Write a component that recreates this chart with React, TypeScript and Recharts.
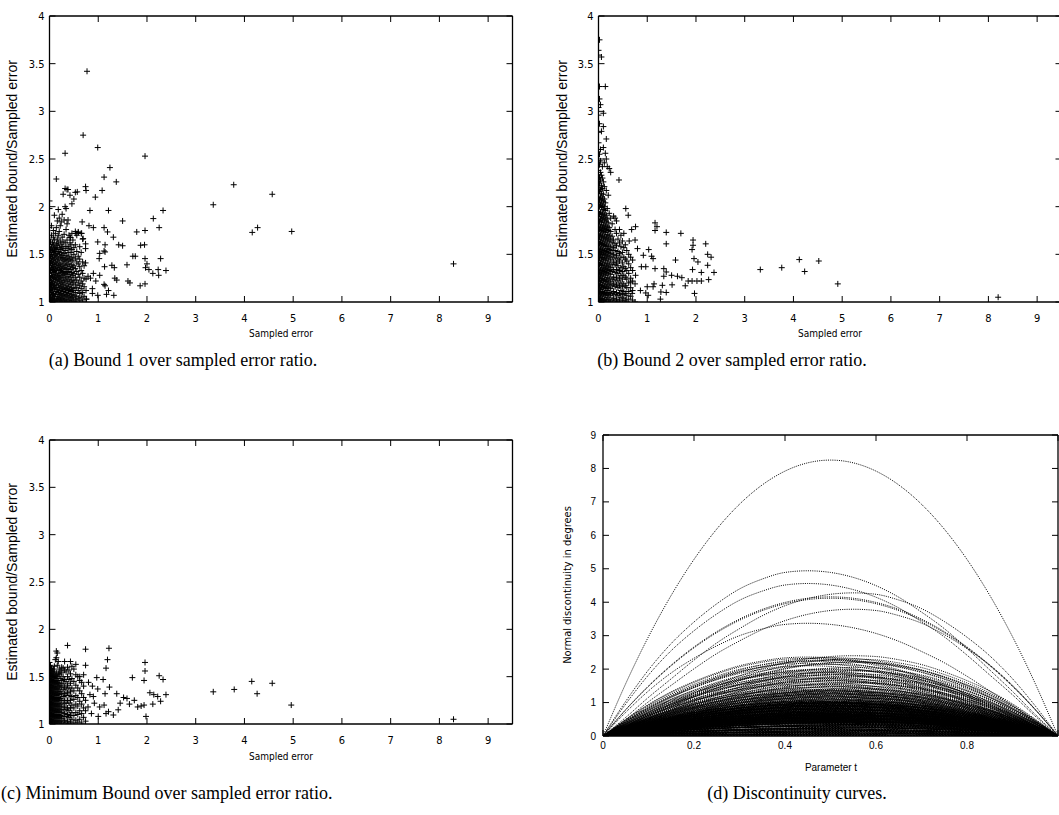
import React from 'react';
import { ScatterChart, Scatter, XAxis, YAxis, LineChart, Line } from 'recharts';

// ---------- tick labels ----------
const errorTicks = [0, 1, 2, 3, 4, 5, 6, 7, 8, 9];
const ratioTicks = [1, 1.5, 2, 2.5, 3, 3.5, 4];
const paramTicks = [0, 0.2, 0.4, 0.6, 0.8, 1];
const paramTickLabels = ['0', '0.2', '0.4', '0.6', '0.8', ''];
const degreeTicks = [0, 1, 2, 3, 4, 5, 6, 7, 8, 9];

// ---------- (a) Bound 1 / sampled error ----------
const boundOneColumns: [number, number[]][] = [
  [0.0, [1.02, 1.08, 1.15, 1.22, 1.3, 1.38, 1.45, 1.52, 1.6, 1.66, 1.78, 1.98, 2.06]],
  [0.02, [1.0, 1.05, 1.12, 1.18, 1.25, 1.33, 1.41, 1.48, 1.55, 1.63]],
  [0.04, [1.03, 1.1, 1.16, 1.21, 1.28, 1.36, 1.43, 1.5, 1.58, 1.7, 1.8]],
  [0.06, [1.01, 1.07, 1.13, 1.2, 1.27, 1.34, 1.4, 1.47, 1.54, 1.62]],
  [0.08, [1.04, 1.09, 1.17, 1.24, 1.31, 1.37, 1.44, 1.52, 1.6, 1.68, 1.75]],
  [0.1, [1.02, 1.06, 1.14, 1.19, 1.26, 1.32, 1.39, 1.46, 1.53, 1.57, 1.65, 1.91]],
  [0.12, [1.0, 1.08, 1.15, 1.23, 1.29, 1.35, 1.42, 1.49, 1.56, 1.72]],
  [0.14, [1.03, 1.11, 1.18, 1.25, 1.33, 1.4, 1.48, 1.55, 1.61, 1.78, 2.29]],
  [0.16, [1.01, 1.06, 1.13, 1.21, 1.28, 1.36, 1.44, 1.51, 1.59, 1.66, 1.85]],
  [0.18, [1.04, 1.1, 1.17, 1.24, 1.3, 1.38, 1.45, 1.53, 1.62, 1.7, 1.97]],
  [0.2, [1.02, 1.08, 1.15, 1.22, 1.27, 1.34, 1.41, 1.5, 1.57, 1.74, 1.88]],
  [0.22, [1.0, 1.05, 1.12, 1.19, 1.26, 1.33, 1.39, 1.47, 1.55, 1.64, 1.8]],
  [0.24, [1.03, 1.09, 1.16, 1.23, 1.31, 1.37, 1.46, 1.52, 1.6, 1.84]],
  [0.26, [1.01, 1.07, 1.14, 1.2, 1.28, 1.35, 1.43, 1.49, 1.58, 1.68, 1.92]],
  [0.28, [1.04, 1.11, 1.18, 1.25, 1.32, 1.4, 1.47, 1.56, 1.63, 2.13]],
  [0.3, [1.02, 1.06, 1.13, 1.21, 1.29, 1.36, 1.44, 1.51, 1.71, 1.86]],
  [0.32, [1.0, 1.08, 1.15, 1.23, 1.3, 1.38, 1.45, 1.54, 1.62, 2.0, 2.19, 2.56]],
  [0.34, [1.03, 1.1, 1.17, 1.26, 1.34, 1.42, 1.49, 1.58, 1.76, 1.98]],
  [0.36, [1.01, 1.07, 1.14, 1.22, 1.31, 1.39, 1.46, 1.65, 1.82, 2.18]],
  [0.38, [1.05, 1.12, 1.19, 1.27, 1.35, 1.44, 1.52, 1.58, 1.86, 2.18]],
  [0.4, [1.02, 1.09, 1.16, 1.24, 1.32, 1.4, 1.48, 1.56, 1.7]],
  [0.42, [1.0, 1.06, 1.13, 1.21, 1.29, 1.37, 1.45, 1.62, 1.68, 2.12]],
  [0.44, [1.04, 1.11, 1.18, 1.26, 1.34, 1.43, 1.52, 1.6]],
  [0.46, [1.02, 1.08, 1.15, 1.23, 1.31, 1.39, 1.47, 1.55, 1.72, 2.03]],
  [0.48, [1.05, 1.12, 1.2, 1.28, 1.36, 1.44, 1.65]],
  [0.5, [1.01, 1.07, 1.14, 1.22, 1.3, 1.38, 1.5, 1.57, 2.08]],
  [0.53, [1.03, 1.1, 1.18, 1.26, 1.35, 1.46, 1.6, 1.74, 2.15]],
  [0.56, [1.0, 1.06, 1.15, 1.23, 1.32, 1.42, 1.53, 1.7]],
  [0.59, [1.04, 1.12, 1.2, 1.29, 1.4, 1.48, 1.73]],
  [0.62, [1.02, 1.09, 1.17, 1.26, 1.37, 1.45, 1.58]],
  [0.65, [1.05, 1.14, 1.22, 1.33, 1.52, 1.72]],
  [0.68, [1.01, 1.1, 1.19, 1.3, 1.42, 1.66]],
  [0.71, [1.06, 1.16, 1.25, 1.38]],
  [0.75, [1.03, 1.12, 1.24]],
];
const boundOneOutliers: [number, number][] = [
  [0.77, 3.42], [0.69, 2.75], [0.99, 2.62], [1.96, 2.53], [1.24, 2.41], [1.12, 2.31], [1.37, 2.26],
  [3.78, 2.23], [4.57, 2.13], [3.36, 2.02], [4.16, 1.73], [4.27, 1.78], [4.97, 1.74], [8.29, 1.4],
  [2.33, 1.96], [2.13, 1.875], [2.25, 1.78], [1.96, 1.75], [1.79, 1.735], [1.95, 1.6], [1.87, 1.595],
  [1.5, 1.85], [1.21, 1.96], [1.08, 2.17], [0.94, 2.1], [0.75, 2.17], [0.74, 2.21], [0.57, 2.155],
  [0.83, 1.96], [0.67, 1.84], [0.81, 1.8], [0.9, 1.78], [1.12, 1.78], [1.19, 1.735], [1.31, 1.68],
  [0.99, 1.63], [1.14, 1.6], [1.42, 1.6], [1.5, 1.59], [1.03, 1.51], [1.12, 1.535], [1.02, 1.455],
  [1.14, 1.525], [1.59, 1.39], [1.71, 1.48], [1.76, 1.48], [1.96, 1.455], [2.28, 1.455], [2.39, 1.33],
  [2.23, 1.34], [2.24, 1.28], [2.12, 1.3], [2.04, 1.34], [1.97, 1.36], [2.0, 1.4], [1.28, 1.385],
  [1.33, 1.36], [1.38, 1.23], [1.34, 1.25], [1.61, 1.22], [1.65, 1.2], [1.86, 1.17], [1.96, 1.19],
  [1.13, 1.37], [1.12, 1.185], [1.14, 1.17], [1.21, 1.12], [1.17, 1.08], [1.32, 1.07], [0.99, 1.07],
  [0.88, 1.14], [0.88, 1.09], [0.76, 1.03], [1.03, 1.28], [0.9, 1.3], [0.79, 1.27], [0.74, 1.41],
  [0.74, 1.56], [0.74, 1.61], [0.69, 1.665], [0.66, 1.72], [0.59, 1.735], [0.54, 1.72], [0.43, 1.675],
  [0.84, 1.25], [0.95, 1.22],
];

// ---------- (b) Bound 2 / sampled error ----------
const boundTwoColumns: [number, number[]][] = [
  [0.0, [1.01, 1.07, 1.14, 1.21, 1.28, 1.35, 1.42, 1.5, 1.57, 1.64, 1.72, 1.8, 1.88, 1.95, 2.03, 2.11, 2.2, 2.27, 2.38, 2.48, 2.67, 2.78, 2.96, 3.04, 3.59, 3.64]],
  [0.02, [1.03, 1.1, 1.17, 1.24, 1.31, 1.39, 1.46, 1.53, 1.61, 1.68, 1.76, 1.84, 1.92, 2.0, 2.07, 2.16, 2.24, 2.31, 2.44, 2.55, 2.87, 3.13, 3.26, 3.75]],
  [0.04, [1.0, 1.06, 1.13, 1.2, 1.27, 1.34, 1.41, 1.49, 1.56, 1.63, 1.71, 1.79, 1.87, 1.94, 2.02, 2.1, 2.18, 2.28, 2.36, 2.48, 2.6, 3.07]],
  [0.06, [1.02, 1.09, 1.16, 1.23, 1.3, 1.38, 1.45, 1.52, 1.6, 1.67, 1.75, 1.83, 1.9, 1.99, 2.06, 2.14, 2.22, 2.33, 2.79, 3.57]],
  [0.08, [1.04, 1.11, 1.18, 1.25, 1.33, 1.4, 1.47, 1.55, 1.62, 1.7, 1.78, 1.86, 1.93, 2.01, 2.09, 2.19, 2.3, 2.42]],
  [0.1, [1.01, 1.08, 1.15, 1.22, 1.29, 1.36, 1.44, 1.51, 1.59, 1.66, 1.74, 1.81, 1.89, 1.97, 2.05, 2.13, 2.26, 2.62, 2.84, 2.98]],
  [0.12, [1.03, 1.1, 1.17, 1.24, 1.32, 1.39, 1.47, 1.54, 1.61, 1.69, 1.77, 1.85, 1.92, 2.0, 2.08, 2.21, 2.46]],
  [0.14, [1.0, 1.07, 1.14, 1.21, 1.28, 1.35, 1.43, 1.5, 1.58, 1.65, 1.73, 1.8, 1.88, 1.96, 2.04, 2.56, 3.26]],
  [0.16, [1.02, 1.09, 1.16, 1.23, 1.31, 1.38, 1.46, 1.53, 1.6, 1.68, 1.76, 1.84, 1.91, 2.17, 2.5, 2.71]],
  [0.18, [1.05, 1.12, 1.19, 1.26, 1.34, 1.41, 1.49, 1.56, 1.64, 1.71, 1.79, 1.87, 1.98, 2.42]],
  [0.2, [1.01, 1.08, 1.15, 1.22, 1.3, 1.37, 1.45, 1.52, 1.59, 1.67, 1.75, 1.83, 2.12]],
  [0.22, [1.03, 1.1, 1.18, 1.25, 1.33, 1.4, 1.48, 1.55, 1.63, 1.7, 1.78, 1.93, 2.4]],
  [0.25, [1.0, 1.07, 1.14, 1.21, 1.29, 1.36, 1.44, 1.51, 1.58, 1.66, 1.74, 1.88, 2.36]],
  [0.28, [1.02, 1.09, 1.17, 1.24, 1.32, 1.39, 1.47, 1.54, 1.62, 1.69, 1.82]],
  [0.31, [1.04, 1.11, 1.19, 1.26, 1.34, 1.42, 1.5, 1.57, 1.65, 1.9]],
  [0.34, [1.01, 1.08, 1.16, 1.23, 1.31, 1.39, 1.46, 1.54, 1.61, 1.76, 1.88]],
  [0.37, [1.03, 1.1, 1.18, 1.26, 1.34, 1.41, 1.49, 1.59, 1.72, 1.85]],
  [0.4, [1.0, 1.07, 1.15, 1.22, 1.3, 1.38, 1.45, 1.53, 1.66]],
  [0.43, [1.02, 1.09, 1.17, 1.25, 1.33, 1.43, 1.51, 1.62, 1.76]],
  [0.46, [1.05, 1.12, 1.2, 1.28, 1.36, 1.47, 1.58, 1.7]],
  [0.49, [1.01, 1.08, 1.16, 1.24, 1.32, 1.41, 1.52, 1.64]],
  [0.52, [1.04, 1.11, 1.19, 1.28, 1.37, 1.47, 1.57, 1.72]],
  [0.55, [1.02, 1.09, 1.17, 1.26, 1.35, 1.45, 1.6]],
  [0.58, [1.0, 1.07, 1.15, 1.24, 1.33, 1.43, 1.54]],
  [0.62, [1.03, 1.11, 1.2, 1.3, 1.4, 1.5]],
  [0.66, [1.06, 1.15, 1.25, 1.36, 1.47]],
  [0.7, [1.02, 1.12, 1.22, 1.33, 1.44]],
];
const boundTwoOutliers: [number, number][] = [
  [3.32, 1.34], [3.76, 1.36], [4.12, 1.445], [4.23, 1.32], [4.52, 1.43], [4.91, 1.19], [8.2, 1.05],
  [2.37, 1.31], [2.31, 1.47], [2.24, 1.5], [2.2, 1.61], [2.24, 1.385], [2.26, 1.235], [2.11, 1.31],
  [2.11, 1.22], [2.04, 1.42], [1.96, 1.455], [1.94, 1.65], [1.94, 1.595], [1.92, 1.55], [1.93, 1.34],
  [1.92, 1.22], [2.02, 1.22], [1.84, 1.22], [1.78, 1.17], [1.97, 1.09], [1.69, 1.72], [1.58, 1.44],
  [1.39, 1.73], [1.39, 1.61], [1.16, 1.83], [1.2, 1.79], [1.16, 1.75], [0.76, 1.79], [0.56, 1.98],
  [0.61, 1.91], [0.42, 2.28], [0.75, 1.65], [0.8, 1.56], [1.03, 1.55], [0.92, 1.49], [1.09, 1.48],
  [1.12, 1.455], [1.16, 1.35], [1.34, 1.35], [1.39, 1.315], [1.5, 1.28], [1.62, 1.27], [1.71, 1.255],
  [1.51, 1.18], [1.34, 1.27], [1.31, 1.175], [1.28, 1.105], [1.39, 1.1], [1.27, 1.03], [1.14, 1.19],
  [1.12, 1.16], [1.0, 1.16], [1.02, 1.07], [0.97, 1.095], [0.86, 1.12], [0.88, 1.37], [0.97, 1.37],
  [0.76, 1.28], [0.75, 1.19], [0.75, 1.0], [0.66, 1.21], [0.69, 1.09], [0.63, 1.64], [0.68, 1.76],
];

// ---------- (c) Minimum bound / sampled error ----------
const minBoundColumns: [number, number[]][] = [
  [0.0, [1.01, 1.06, 1.12, 1.18, 1.24, 1.3, 1.36, 1.42, 1.48, 1.54, 1.6, 1.65]],
  [0.02, [1.03, 1.09, 1.15, 1.21, 1.27, 1.33, 1.39, 1.45, 1.51, 1.57, 1.62]],
  [0.04, [1.0, 1.05, 1.11, 1.17, 1.23, 1.29, 1.35, 1.41, 1.47, 1.53, 1.59]],
  [0.06, [1.02, 1.08, 1.14, 1.2, 1.26, 1.32, 1.38, 1.44, 1.5, 1.56]],
  [0.08, [1.04, 1.1, 1.16, 1.22, 1.28, 1.34, 1.4, 1.46, 1.52, 1.58]],
  [0.1, [1.01, 1.07, 1.13, 1.19, 1.25, 1.31, 1.37, 1.43, 1.49, 1.55, 1.61]],
  [0.12, [1.03, 1.09, 1.15, 1.21, 1.27, 1.33, 1.39, 1.45, 1.51, 1.68]],
  [0.14, [1.0, 1.06, 1.12, 1.18, 1.24, 1.3, 1.36, 1.42, 1.48, 1.54, 1.7, 1.77]],
  [0.16, [1.02, 1.08, 1.14, 1.2, 1.26, 1.32, 1.38, 1.44, 1.5, 1.62, 1.75]],
  [0.18, [1.04, 1.1, 1.16, 1.22, 1.28, 1.34, 1.4, 1.46, 1.53, 1.66]],
  [0.2, [1.01, 1.07, 1.13, 1.19, 1.25, 1.31, 1.37, 1.43, 1.52, 1.58]],
  [0.22, [1.03, 1.09, 1.15, 1.21, 1.27, 1.34, 1.41, 1.48, 1.56]],
  [0.25, [1.0, 1.06, 1.12, 1.18, 1.25, 1.32, 1.39, 1.46, 1.54, 1.6]],
  [0.28, [1.02, 1.08, 1.15, 1.22, 1.29, 1.36, 1.43, 1.5, 1.59]],
  [0.31, [1.04, 1.11, 1.18, 1.25, 1.32, 1.39, 1.47, 1.57, 1.66]],
  [0.34, [1.01, 1.08, 1.15, 1.22, 1.3, 1.37, 1.45, 1.55]],
  [0.37, [1.03, 1.1, 1.17, 1.25, 1.33, 1.41, 1.5, 1.6, 1.83]],
  [0.4, [1.0, 1.07, 1.14, 1.22, 1.3, 1.38, 1.47, 1.57]],
  [0.43, [1.02, 1.09, 1.17, 1.25, 1.34, 1.43, 1.53, 1.66]],
  [0.46, [1.05, 1.12, 1.2, 1.29, 1.38, 1.48, 1.61]],
  [0.5, [1.01, 1.09, 1.17, 1.26, 1.35, 1.45, 1.58]],
  [0.54, [1.04, 1.12, 1.21, 1.3, 1.41, 1.52, 1.63]],
  [0.58, [1.02, 1.1, 1.19, 1.28, 1.38, 1.5]],
  [0.62, [1.05, 1.14, 1.24, 1.35, 1.46]],
  [0.66, [1.01, 1.11, 1.21, 1.32, 1.44]],
  [0.7, [1.07, 1.17, 1.28, 1.4, 1.52]],
  [0.74, [1.03, 1.14, 1.25]],
];
const minBoundOutliers: [number, number][] = [
  [3.36, 1.34], [3.79, 1.365], [4.15, 1.45], [4.26, 1.32], [4.57, 1.43], [4.96, 1.2], [8.29, 1.05],
  [2.39, 1.31], [2.33, 1.47], [2.25, 1.51], [2.28, 1.24], [2.22, 1.29], [2.14, 1.31], [2.12, 1.21],
  [2.06, 1.33], [1.96, 1.65], [1.96, 1.56], [1.94, 1.46], [1.98, 1.08], [1.94, 1.2], [1.88, 1.19],
  [1.81, 1.18], [1.74, 1.25], [1.7, 1.49], [1.64, 1.21], [1.59, 1.27], [1.52, 1.28], [1.45, 1.22],
  [1.38, 1.32], [1.22, 1.8], [1.19, 1.68], [1.16, 1.59], [0.74, 1.79], [0.74, 1.62], [0.97, 1.49],
  [1.1, 1.47], [1.14, 1.32], [0.99, 1.37], [1.23, 1.39], [1.03, 1.18], [1.12, 1.2], [1.21, 1.13],
  [1.16, 1.11], [1.31, 1.095], [1.41, 1.15], [1.0, 1.08], [0.86, 1.11], [0.9, 1.29], [0.83, 1.31],
  [0.62, 1.5], [0.8, 1.44], [0.88, 1.4], [0.92, 1.22], [0.79, 1.18],
];

// ---------- (d) Discontinuity curves ----------
const paramSamples = [0, 0.05, 0.1, 0.15, 0.2, 0.25, 0.3, 0.35, 0.4, 0.45, 0.5, 0.55, 0.6, 0.65, 0.7, 0.75, 0.8, 0.85, 0.9, 0.95, 1];
const profileCentre = [0, 0.19, 0.36, 0.51, 0.64, 0.75, 0.84, 0.91, 0.96, 0.99, 1.0, 0.99, 0.96, 0.91, 0.84, 0.75, 0.64, 0.51, 0.36, 0.19, 0];
const profileEarly = [0, 0.21, 0.4, 0.56, 0.69, 0.8, 0.89, 0.95, 0.99, 1.0, 0.99, 0.96, 0.91, 0.84, 0.75, 0.65, 0.53, 0.4, 0.27, 0.13, 0];
const profileLate = [0, 0.13, 0.27, 0.4, 0.53, 0.65, 0.75, 0.84, 0.91, 0.96, 0.99, 1.0, 0.99, 0.95, 0.89, 0.8, 0.69, 0.56, 0.4, 0.21, 0];
const largeCurvePeaks = [8.25, 4.94, 4.56, 4.28, 4.16, 4.12, 3.79, 3.37];
const largeCurveProfiles = [0, 1, 1, 2, 0, 0, 2, 1];
const smallCurvePeaks = [
  2.4, 2.36, 2.34, 2.32, 2.3, 2.28, 2.26, 2.24, 2.22, 2.2, 2.17, 2.14, 2.1, 2.05, 2.01, 1.99, 1.97,
  1.96, 1.94, 1.92, 1.9, 1.88, 1.86, 1.84, 1.82, 1.8, 1.78, 1.76, 1.74, 1.72, 1.7, 1.68, 1.66, 1.64,
  1.62, 1.6, 1.58, 1.56, 1.54, 1.52, 1.5, 1.48, 1.46, 1.44, 1.42, 1.4, 1.39, 1.38, 1.37, 1.36, 1.35,
  1.34, 1.33, 1.32, 1.31, 1.3, 1.29, 1.28, 1.27, 1.26, 1.25, 1.24, 1.23, 1.22, 1.21, 1.2, 1.19, 1.18,
  1.17, 1.16, 1.15, 1.14, 1.13, 1.12, 1.11, 1.1, 1.09, 1.08, 1.07, 1.06, 1.05, 1.04, 1.03, 1.02, 1.01,
  1.0, 0.99, 0.98, 0.97, 0.96, 0.95, 0.94, 0.93, 0.92, 0.91, 0.9, 0.89, 0.88, 0.87, 0.86, 0.85, 0.84,
  0.83, 0.82, 0.81, 0.8, 0.79, 0.78, 0.77, 0.76, 0.75, 0.74, 0.73, 0.72, 0.71, 0.7, 0.69, 0.68, 0.67,
  0.66, 0.65, 0.64, 0.63, 0.62, 0.61, 0.6, 0.59, 0.58, 0.57, 0.56, 0.55, 0.54, 0.53, 0.52, 0.51, 0.5,
  0.49, 0.48, 0.47, 0.46, 0.45, 0.44, 0.43, 0.42, 0.41, 0.4, 0.38, 0.36, 0.34, 0.32, 0.3, 0.28, 0.26,
  0.24, 0.22, 0.2, 0.18, 0.16, 0.14, 0.12, 0.1, 0.08, 0.06, 0.04, 0.02,
];
const smallCurveProfilePattern = [2, 1, 0, 1, 2, 0, 0, 1, 2];
const dashOffsets = [0, 0.7, 1.4, 0.35, 1.05, 1.75, 0.2, 0.9, 1.6];

// ---------- derived tables ----------
const toPoints = (cols: [number, number[]][], extra: [number, number][]) => [
  ...cols.flatMap(([x, ys]) => ys.map((y) => ({ x, y }))),
  ...extra.map(([x, y]) => ({ x, y })),
];
const boundOnePoints = toPoints(boundOneColumns, boundOneOutliers);
const boundTwoPoints = toPoints(boundTwoColumns, boundTwoOutliers);
const minBoundPoints = toPoints(minBoundColumns, minBoundOutliers);

const profiles = [profileCentre, profileEarly, profileLate];
const allCurves: { peak: number; profile: number[] }[] = [
  ...largeCurvePeaks.map((peak, k) => ({ peak, profile: profiles[largeCurveProfiles[k]] })),
  ...smallCurvePeaks.map((peak, k) => ({ peak, profile: profiles[smallCurveProfilePattern[k % smallCurveProfilePattern.length]] })),
];
const curveRows = paramSamples.map((t, i) => {
  const row: Record<string, number> = { t };
  allCurves.forEach((c, k) => {
    row[`c${k}`] = c.peak * c.profile[i];
  });
  return row;
});

// ---------- styles ----------
const FONT_NARROW = "'Liberation Sans Narrow', 'DejaVu Sans Condensed', 'Liberation Sans', Arial, sans-serif";
const FONT_SANS = "'Liberation Sans', Arial, sans-serif";
const FONT_SERIF = "'Liberation Serif', 'DejaVu Serif', serif";
const TICK = 6;

const PlusMark = (props: any) => {
  const { cx, cy } = props;
  if (cx == null || cy == null) return <g />;
  return (
    <path
      d={`M${cx - 3},${cy}H${cx + 3}M${cx},${cy - 3}V${cy + 3}`}
      stroke="#000"
      strokeWidth={1}
      fill="none"
    />
  );
};
const NoMark = () => <g />;

type Box = { top: number; bottom: number; left: number; right: number };

const makeBottomTick = (box: Box, size: number, family: string, drop: number, fmt: (v: number) => string) => (p: any) => (
  <g>
    <line x1={p.x} x2={p.x} y1={box.bottom} y2={box.bottom - TICK} stroke="#000" strokeWidth={1} />
    <text x={p.x} y={box.bottom + drop} textAnchor="middle" fontSize={size} fontFamily={family} fill="#000">
      {fmt(p.payload.value)}
    </text>
  </g>
);
const makeTopTick = (box: Box) => (p: any) => (
  <line x1={p.x} x2={p.x} y1={box.top} y2={box.top + TICK} stroke="#000" strokeWidth={1} />
);
const makeLeftTick = (box: Box, size: number, family: string, gap: number) => (p: any) => (
  <g>
    <line x1={box.left} x2={box.left + TICK} y1={p.y} y2={p.y} stroke="#000" strokeWidth={1} />
    <text x={box.left - gap} y={p.y + size * 0.36} textAnchor="end" fontSize={size} fontFamily={family} fill="#000">
      {String(p.payload.value)}
    </text>
  </g>
);
const makeRightTick = (box: Box) => (p: any) => (
  <line x1={box.right} x2={box.right - TICK} y1={p.y} y2={p.y} stroke="#000" strokeWidth={1} />
);

const Txt = ({ x, y, size, family, rotate, anchor, children }: any) => (
  <div
    style={{
      position: 'absolute',
      left: x,
      top: y,
      transform: `translate(${anchor === 'start' ? '0' : '-50%'}, -50%)${rotate ? ' rotate(-90deg)' : ''}`,
      fontSize: size,
      fontFamily: family,
      lineHeight: 1,
      whiteSpace: 'nowrap',
      color: '#000',
    }}
  >
    {children}
  </div>
);

const axisCommon = { stroke: '#000', axisLine: { strokeWidth: 1.3 }, tickLine: false, allowDataOverflow: true, interval: 0 as const };

function ScatterPanel({ left, top, height, points }: { left: number; top: number; height: number; points: { x: number; y: number }[] }) {
  const box: Box = { top: 16, bottom: height - 38, left: 49.5, right: 512.5 };
  return (
    <div style={{ position: 'absolute', left, top }}>
      <ScatterChart width={530} height={height} margin={{ top: 15, right: 16.5, bottom: 8, left: 0 }}>
        <XAxis
          xAxisId="bottom"
          type="number"
          dataKey="x"
          domain={[0, 9.5]}
          ticks={errorTicks}
          height={30}
          tick={makeBottomTick(box, 11, FONT_NARROW, 20, (v) => String(v))}
          {...axisCommon}
        />
        <XAxis xAxisId="top" orientation="top" type="number" dataKey="x" domain={[0, 9.5]} ticks={errorTicks} height={1} tick={makeTopTick(box)} {...axisCommon} />
        <YAxis
          yAxisId="left"
          type="number"
          dataKey="y"
          domain={[1, 4]}
          ticks={ratioTicks}
          width={49.5}
          tick={makeLeftTick(box, 11, FONT_NARROW, 5)}
          {...axisCommon}
        />
        <YAxis yAxisId="right" orientation="right" type="number" dataKey="y" domain={[1, 4]} ticks={ratioTicks} width={1} tick={makeRightTick(box)} {...axisCommon} />
        <Scatter xAxisId="top" yAxisId="right" data={points} shape={NoMark} isAnimationActive={false} />
        <Scatter xAxisId="bottom" yAxisId="left" data={points} shape={PlusMark} isAnimationActive={false} />
      </ScatterChart>
    </div>
  );
}

const curveStroke = (peak: number) =>
  peak < 0.7
    ? { width: 1.4, dash: '2.4 0.5' }
    : peak < 1.05
      ? { width: 1.3, dash: '1.6 0.8' }
      : { width: 1, dash: '1 1.2' };

function CurvePanel() {
  const box: Box = { top: 15, bottom: 316, left: 73, right: 528 };
  return (
    <div style={{ position: 'absolute', left: 530, top: 420 }}>
      <LineChart width={539} height={360} data={curveRows} margin={{ top: 14, right: 10, bottom: 14, left: 0 }}>
        <XAxis
          xAxisId="bottom"
          type="number"
          dataKey="t"
          domain={[0, 1]}
          ticks={paramTicks}
          height={30}
          tick={makeBottomTick(box, 10, FONT_SANS, 13, (v) => paramTickLabels[paramTicks.indexOf(v)] ?? '')}
          {...axisCommon}
        />
        <XAxis xAxisId="top" orientation="top" type="number" dataKey="t" domain={[0, 1]} ticks={paramTicks} height={1} tick={makeTopTick(box)} {...axisCommon} />
        <YAxis
          yAxisId="left"
          type="number"
          domain={[0, 9]}
          ticks={degreeTicks}
          width={73}
          tick={makeLeftTick(box, 10, FONT_SANS, 7)}
          {...axisCommon}
        />
        <YAxis yAxisId="right" orientation="right" type="number" domain={[0, 9]} ticks={degreeTicks} width={1} tick={makeRightTick(box)} {...axisCommon} />
        <Line xAxisId="top" yAxisId="right" dataKey="c0" stroke="none" dot={false} activeDot={false} isAnimationActive={false} />
        {allCurves.map((c, k) => {
          const s = curveStroke(c.peak);
          return (
            <Line
              key={k}
              xAxisId="bottom"
              yAxisId="left"
              type="monotone"
              dataKey={`c${k}`}
              stroke="#000"
              strokeWidth={s.width}
              strokeDasharray={s.dash}
              strokeDashoffset={dashOffsets[k % dashOffsets.length]}
              dot={false}
              activeDot={false}
              isAnimationActive={false}
            />
          );
        })}
      </LineChart>
    </div>
  );
}

export default function App() {
  return (
    <div style={{ position: 'fixed', left: 0, top: 0, width: 1059, height: 815, overflow: 'hidden', background: '#fff' }}>
      <ScatterPanel left={0} top={0} height={340} points={boundOnePoints} />
      <ScatterPanel left={549.2} top={0} height={340} points={boundTwoPoints} />
      <ScatterPanel left={0} top={424} height={338} points={minBoundPoints} />
      <CurvePanel />

      <Txt x={12} y={159} size={14} family={FONT_SANS} rotate>Estimated bound/Sampled error</Txt>
      <Txt x={562} y={159} size={14} family={FONT_SANS} rotate>Estimated bound/Sampled error</Txt>
      <Txt x={12} y={582} size={14} family={FONT_SANS} rotate>Estimated bound/Sampled error</Txt>
      <Txt x={567} y={585} size={11} family={FONT_NARROW} rotate>Normal discontinuity in degrees</Txt>

      <Txt x={281} y={334} size={10} family={FONT_NARROW}>Sampled error</Txt>
      <Txt x={830} y={334} size={10} family={FONT_NARROW}>Sampled error</Txt>
      <Txt x={281} y={757} size={10} family={FONT_NARROW}>Sampled error</Txt>
      <Txt x={831} y={768} size={10} family={FONT_SANS}>Parameter t</Txt>

      <Txt x={183} y={360} size={18} family={FONT_SERIF}>(a) Bound 1 over sampled error ratio.</Txt>
      <Txt x={732} y={360} size={18} family={FONT_SERIF}>(b) Bound 2 over sampled error ratio.</Txt>
      <Txt x={1} y={793} size={18} family={FONT_SERIF} anchor="start">(c) Minimum Bound over sampled error ratio.</Txt>
      <Txt x={797} y={793} size={18} family={FONT_SERIF}>(d) Discontinuity curves.</Txt>
    </div>
  );
}
